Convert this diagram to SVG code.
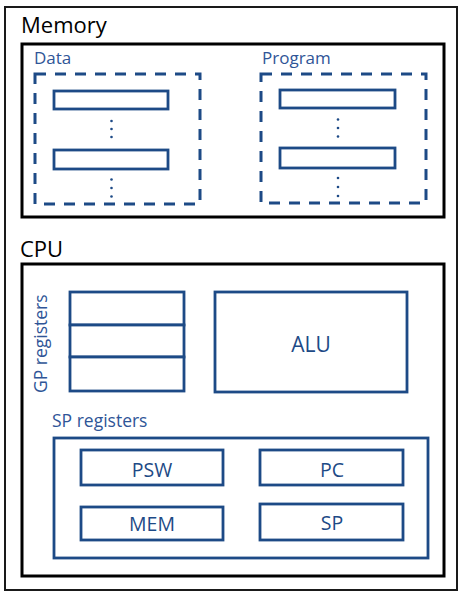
<svg xmlns="http://www.w3.org/2000/svg" width="462" height="592" viewBox="0 0 462 592">
<style>
.outer{fill:none;stroke:#1a1a1a;stroke-width:2}
.frame{fill:none;stroke:#000;stroke-width:3}
.dash{fill:none;stroke:#1d4a86;stroke-width:3;stroke-dasharray:11 9}
.box{fill:#fff;stroke:#1d4a86;stroke-width:2.8}
.dot{fill:#1d4a86}
.title{font-family:"Open Sans","Noto Sans",sans-serif;font-size:22px;fill:#000}
.lbl{font-family:"Open Sans","Noto Sans",sans-serif;font-size:17px;fill:#2f5597}
.reg{font-family:"Open Sans","Noto Sans",sans-serif;font-size:19.5px;fill:#1d4a86;text-anchor:middle}
</style>
<rect class="outer" x="5" y="7" width="452" height="583"/>
<g id="memory">
<rect class="frame" x="22" y="44" width="422" height="173"/>
<text class="title" x="21" y="33">Memory</text>
</g>
<g id="data">
<text class="lbl" x="34" y="64">Data</text>
<rect class="dash" x="35" y="74" width="165" height="130"/>
<rect class="box" x="54" y="91" width="114" height="18"/>
<rect class="box" x="54" y="150" width="114" height="19"/>
<circle class="dot" cx="111.5" cy="121" r="1.3"/><circle class="dot" cx="111.5" cy="129" r="1.3"/><circle class="dot" cx="111.5" cy="137" r="1.3"/>
<circle class="dot" cx="111.5" cy="179.5" r="1.3"/><circle class="dot" cx="111.5" cy="188" r="1.3"/><circle class="dot" cx="111.5" cy="196.5" r="1.3"/>
</g>
<g id="program">
<text class="lbl" x="262" y="64">Program</text>
<rect class="dash" x="261" y="74" width="165" height="129"/>
<rect class="box" x="280" y="90" width="115" height="18"/>
<rect class="box" x="280" y="148" width="115" height="20"/>
<circle class="dot" cx="338" cy="119.5" r="1.3"/><circle class="dot" cx="338" cy="128" r="1.3"/><circle class="dot" cx="338" cy="136.5" r="1.3"/>
<circle class="dot" cx="338" cy="178" r="1.3"/><circle class="dot" cx="338" cy="187" r="1.3"/><circle class="dot" cx="338" cy="196" r="1.3"/>
</g>
<g id="cpu">
<rect class="frame" x="22" y="264" width="422" height="312"/>
<text class="title" x="20" y="257">CPU</text>
</g>
<g id="gp-registers">
<text class="lbl" transform="translate(46.5,393) rotate(-90)" style="font-size:17.5px">GP registers</text>
<rect class="box" x="70" y="292" width="114" height="33"/>
<rect class="box" x="70" y="325" width="114" height="32"/>
<rect class="box" x="70" y="357" width="114" height="34"/>
</g>
<g id="alu">
<rect class="box" x="215" y="292" width="192" height="100"/>
<text class="reg" x="311" y="352" style="font-size:21px">ALU</text>
</g>
<g id="sp-registers">
<text class="lbl" x="52" y="427" style="font-size:17.5px">SP registers</text>
<rect class="box" x="54" y="438" width="374" height="120"/>
</g>
<g id="psw">
<rect class="box" x="81" y="450" width="142" height="35"/>
<text class="reg" x="152" y="477">PSW</text>
</g>
<g id="pc">
<rect class="box" x="260" y="450" width="143" height="35"/>
<text class="reg" x="332" y="477">PC</text>
</g>
<g id="mem">
<rect class="box" x="81" y="507" width="142" height="33"/>
<text class="reg" x="152" y="531">MEM</text>
</g>
<g id="sp">
<rect class="box" x="260" y="504" width="143" height="36"/>
<text class="reg" x="332" y="530">SP</text>
</g>
<g id="connectors"/>
</svg>
